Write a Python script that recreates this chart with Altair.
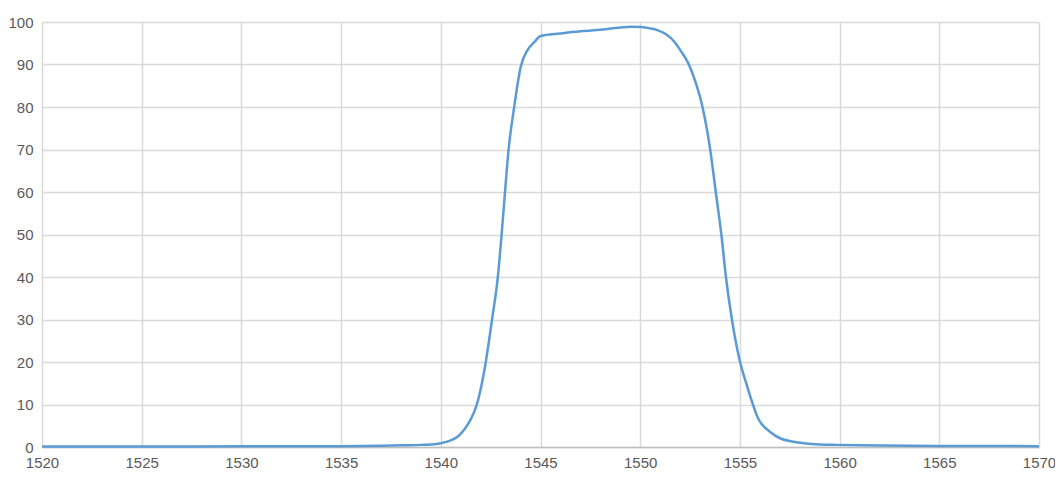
import altair as alt
import pandas as pd

wavelength = [1520, 1525, 1530, 1535, 1537, 1538, 1539, 1539.5, 1540, 1540.4,
              1540.84, 1541.18, 1541.5, 1541.76, 1542.0, 1542.22, 1542.57, 1542.86,
              1543.05, 1543.22, 1543.4, 1543.68, 1544.01, 1544.35, 1544.7, 1545.0,
              1546, 1547, 1547.86, 1549, 1549.5, 1550.03, 1550.5, 1550.86, 1551.3,
              1551.7, 1552.05, 1552.42, 1552.75, 1553.1, 1553.51, 1553.79,
              1554.07, 1554.3, 1554.6, 1554.95, 1555.37, 1555.95, 1556.5, 1557.04,
              1557.6, 1558.2, 1559.0, 1559.88, 1562, 1565, 1570]
transmission = [0.1, 0.1, 0.15, 0.2, 0.3, 0.4, 0.5, 0.6, 0.9, 1.4,
                2.4, 4.1, 6.5, 9.3, 13.6, 19, 30, 40,
                50, 60, 70, 80, 89.5, 93.4, 95.3, 96.7,
                97.3, 97.8, 98.1, 98.7, 98.9, 98.8, 98.5, 98.1, 97.1,
                95.4, 93.1, 90.2, 86.2, 80.5, 70, 60,
                50, 40, 30, 21.2, 14.2, 6.4, 3.6, 2.0,
                1.3, 0.9, 0.6, 0.5, 0.35, 0.25, 0.2]

x_ticks = list(range(1520, 1571, 5))
y_ticks = list(range(0, 101, 10))

df = pd.DataFrame({"wl": wavelength, "t": transmission})

chart = alt.Chart(df).mark_line(
    color="#5b9bd5", strokeWidth=2.5, interpolate="monotone"
).encode(
    x=alt.X("wl:Q", scale=alt.Scale(domain=[1520, 1570], nice=False, zero=False),
            axis=alt.Axis(values=x_ticks, title=None, format="d", ticks=False,
                          labelFlush=False, labelPadding=8,
                          domainColor="#bfbfbf", domainWidth=1.5,
                          gridColor="#d9d9d9", gridWidth=1.5)),
    y=alt.Y("t:Q", scale=alt.Scale(domain=[0, 100], nice=False),
            axis=alt.Axis(values=y_ticks, title=None, ticks=False, domain=False,
                          labelPadding=9, gridColor="#d9d9d9", gridWidth=1.5)),
).properties(
    width=997, height=425,
    autosize=alt.AutoSizeParams(type="none"),
    padding={"left": 34, "top": 14, "right": 16, "bottom": 30},
).configure_axis(
    labelFont="Liberation Sans", labelFontSize=15, labelColor="#595959",
).configure_view(stroke=None)

chart.save("out.html", embed_options={"renderer": "svg", "actions": False})
